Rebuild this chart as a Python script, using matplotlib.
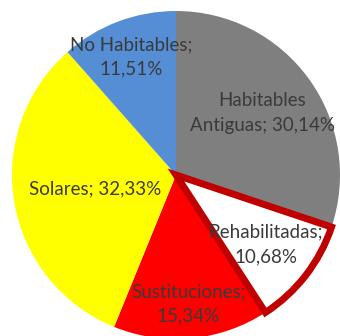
import numpy as np
import matplotlib.pyplot as plt

categorias = ['Habitables\nAntiguas', 'Rehabilitadas', 'Sustituciones', 'Solares', 'No Habitables']
porcentajes = [30.14, 10.68, 15.34, 32.33, 11.51]
colores = ['#7f7f7f', '#ffffff', '#ff0000', '#ffff00', '#558ed5']

# distancia radial de cada etiqueta (fracción del radio)
dist_etiquetas = [0.65, 0.69, 0.79, 0.50, 0.77]

fig = plt.figure(figsize=(3.4, 3.36), dpi=100)
ax = fig.add_axes([0, 0, 1, 1])

centro = (176, 161)
radio = 164

wedges, _ = ax.pie(porcentajes, colors=colores, startangle=90, counterclock=False,
                   center=centro, radius=radio, frame=True,
                   wedgeprops=dict(linewidth=0))
ax.set_xlim(0, 340)
ax.set_ylim(0, 336)
ax.set_aspect('equal')
ax.axis('off')

# porción destacada con borde rojo oscuro
wedges[1].set_edgecolor('#c00000')
wedges[1].set_linewidth(5)
wedges[1].set_joinstyle('miter')
wedges[1].set_zorder(5)

for w, cat, p, d in zip(wedges, categorias, porcentajes, dist_etiquetas):
    ang = np.deg2rad((w.theta1 + w.theta2) / 2)
    x = centro[0] + d * radio * np.cos(ang)
    y = centro[1] + d * radio * np.sin(ang)
    valor = f'{p:.2f}%'.replace('.', ',')
    if cat == 'Solares' or '\n' in cat:
        texto = f'{cat}; {valor}'
    else:
        texto = f'{cat};\n{valor}'
    ax.text(x, y, texto, ha='center', va='center', fontsize=13.5, color='#3a3a3a',
            family='Lato', linespacing=1.55, zorder=6)

fig.savefig('out.png', dpi=100)
